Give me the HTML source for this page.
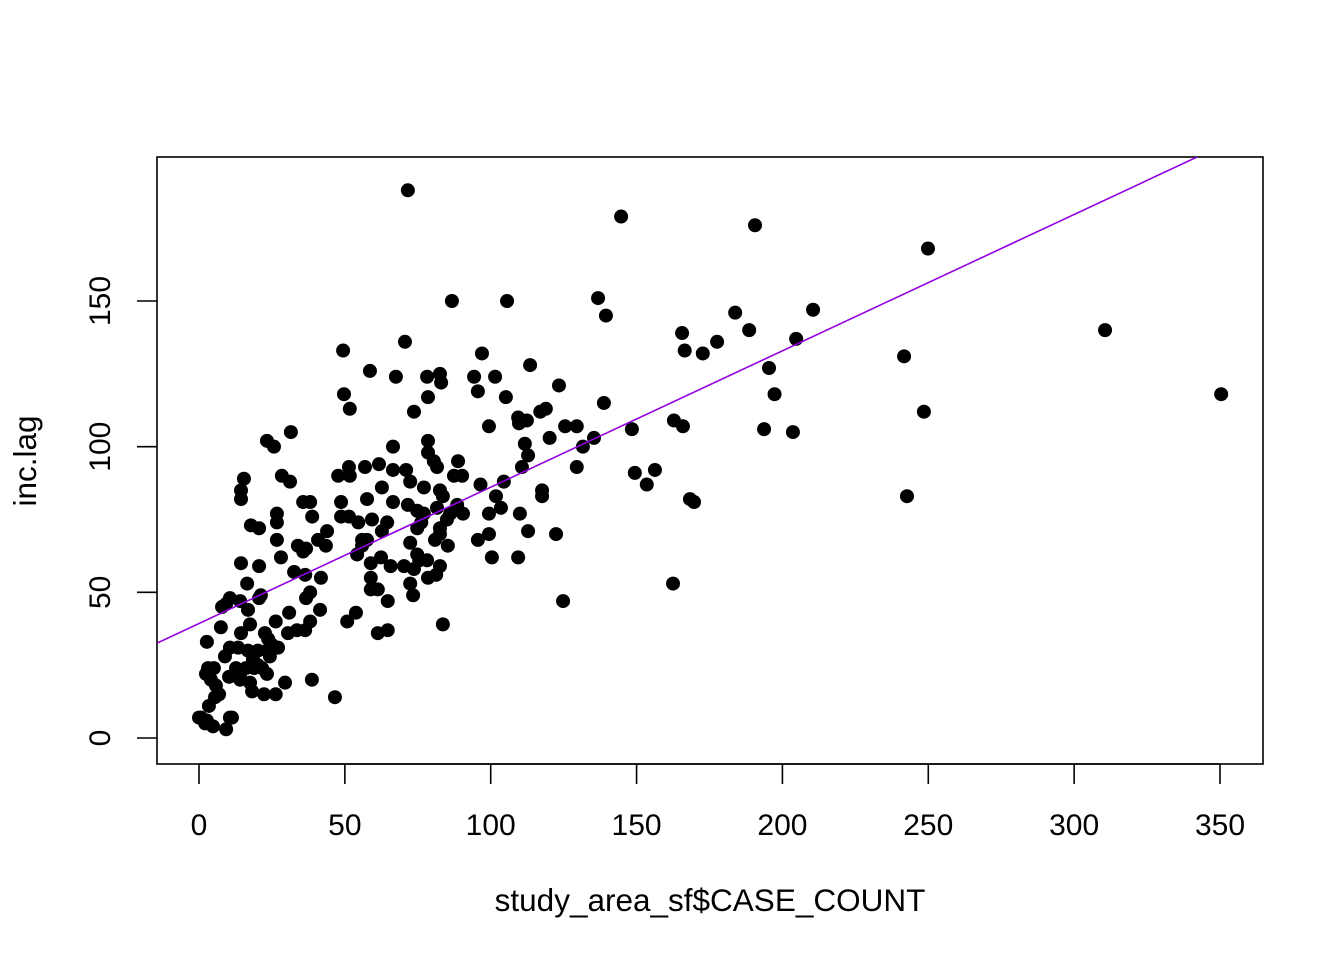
<!DOCTYPE html>
<html><head><meta charset="utf-8">
<style>
html,body{margin:0;padding:0;background:#fff;}
svg{display:block;font-family:"Liberation Sans",Arial,sans-serif;}
</style></head>
<body>
<svg id="chart" width="1344" height="960" viewBox="0 0 1344 960">
<g id="axes"></g>
<g id="pts" clip-path="url(#clip)"></g>
<defs><clipPath id="clip"><rect x="157" y="157" width="1106" height="607"/></clipPath></defs>
<g id="fit" clip-path="url(#clip)"></g>
</svg>
<script>
const xTicks=[0,50,100,150,200,250,300,350];
const yTicks=[0,50,100,150];
const fitIntercept=39.3;
const fitSlope=0.468;
const caseCount=[71.6,144.7,190.6,249.9,86.7,105.6,136.8,139.5,310.6,350.4,210.5,183.8,188.6,165.6,177.6,204.7,166.5,172.7,241.7,195.4,197.3,248.5,193.7,203.6,162.8,165.9,148.4,156.3,149.4,153.5,168.3,169.7,242.7,162.5,124.8,138.8,135.4,131.6,129.5,129.5,125.5,122.4,123.4,120.2,118.9,117.0,117.6,117.6,113.5,112.4,109.4,109.7,111.7,112.8,110.7,110.0,112.8,109.4,105.2,101.5,97.0,94.3,95.6,99.4,101.8,103.5,104.5,99.4,99.4,100.4,96.5,95.6,88.8,87.4,90.2,88.5,90.5,86.1,83.0,82.6,78.2,78.5,78.5,78.5,80.5,81.6,82.6,83.6,81.6,85.0,82.6,82.6,80.9,85.3,82.6,81.3,78.5,83.6,73.7,70.6,67.5,66.5,66.5,71.0,72.4,77.1,77.1,74.8,71.6,74.8,76.2,72.4,74.8,75.5,78.2,70.3,73.7,72.4,73.4,62.7,66.5,64.5,62.7,61.7,59.3,57.6,57.6,55.9,54.2,55.9,58.9,62.4,65.7,58.9,58.9,61.3,64.7,61.3,64.7,53.8,50.8,56.9,51.7,51.4,47.7,54.6,51.4,48.7,48.7,51.7,49.7,49.4,58.6,46.6,38.1,35.7,38.8,40.8,43.9,43.5,41.8,36.7,33.9,35.7,32.6,36.4,31.2,28.4,31.5,23.3,25.7,15.4,14.4,14.4,17.8,20.6,14.4,26.7,26.7,26.7,28.1,20.6,16.5,21.2,20.6,10.6,9.3,7.9,14.1,16.8,17.5,14.4,7.5,2.7,30.9,36.7,38.1,41.5,38.1,36.4,33.6,30.5,26.3,22.6,23.7,25.0,27.1,23.3,24.3,20.2,16.8,13.4,10.6,8.9,18.5,20.2,21.6,18.9,16.1,12.7,14.1,23.3,10.3,14.1,17.5,18.2,22.3,26.3,29.5,38.7,3.1,5.1,2.4,4.1,5.8,6.9,5.5,3.4,0,2.1,0.7,4.8,10.6,9.3,11.3,2.7];
const incLag=[188,179,176,168,150,150,151,145,140,118,147,146,140,139,136,137,133,132,131,127,118,112,106,105,109,107,106,92,91,87,82,81,83,53,47,115,103,100,93,107,107,70,121,103,113,112,85,83,128,109,110,108,101,97,93,77,71,62,117,124,132,124,119,107,83,79,88,77,70,62,87,68,95,90,90,80,77,77,122,125,124,117,102,98,95,93,85,83,79,75,72,70,68,66,59,56,55,39,112,136,124,100,92,92,88,86,77,78,80,72,74,67,63,61,61,59,58,53,49,86,81,74,71,94,75,82,68,66,63,68,60,62,59,55,51,51,47,36,37,43,40,93,90,93,90,74,76,76,81,113,118,133,126,14,81,81,76,68,71,66,55,65,66,64,57,56,88,90,105,102,100,89,85,82,73,72,60,74,77,68,62,59,53,49,48,48,46,45,47,44,39,36,38,33,43,48,50,44,40,37,37,36,40,36,34,32,31,30,28,30,30,31,31,28,27,25,24,24,24,24,22,22,21,20,19,16,15,15,19,20,24,24,22,20,18,15,14,11,7,5,7,4,7,3,7,6];
const NS='http://www.w3.org/2000/svg';
const X0=157,X1=1263,Y0=157,Y1=764;
function sx(v){return 199+v*(1220-199)/350;}
function sy(v){return 738-v*(738-301)/150;}
function mk(tag,attrs,parent){const e=document.createElementNS(NS,tag);for(const k in attrs)e.setAttribute(k,attrs[k]);parent.appendChild(e);return e;}
const axes=document.getElementById('axes');
const box=mk('rect',{x:X0,y:Y0,width:X1-X0,height:Y1-Y0,fill:'none',stroke:'#000','stroke-width':1.6},axes);


const xl=mk('line',{x1:sx(xTicks[0]),x2:sx(xTicks[xTicks.length-1]),y1:Y1,y2:Y1,stroke:'#000','stroke-width':1.6},axes);


xTicks.forEach(t=>{
  const l=mk('line',{x1:sx(t),x2:sx(t),y1:Y1,y2:Y1+20,stroke:'#000','stroke-width':1.6},axes);
  
  
  const tx=mk('text',{x:sx(t),y:835,'text-anchor':'middle','font-size':30},axes);
  tx.textContent=t;
  
  
});
yTicks.forEach(t=>{
  const l=mk('line',{x1:X0-20,x2:X0,y1:sy(t),y2:sy(t),stroke:'#000','stroke-width':1.6},axes);
  
  
  const tx=mk('text',{x:110,y:sy(t),'text-anchor':'middle','font-size':30,transform:'rotate(-90 110 '+sy(t)+')'},axes);
  tx.textContent=t;
  
  
});
const xt=mk('text',{x:710,y:911,'text-anchor':'middle','font-size':31.5},axes);
xt.textContent='study_area_sf$CASE_COUNT';


const yt=mk('text',{x:36,y:461,'text-anchor':'middle','font-size':31.5,transform:'rotate(-90 36 461)'},axes);
yt.textContent='inc.lag';


const pts=document.getElementById('pts');
caseCount.forEach((v,i)=>{
  const c=mk('circle',{cx:sx(v),cy:sy(incLag[i]),r:7,fill:'#000'},pts);
  
  
});
const xa=-20,xb=400;
const fl=mk('line',{x1:sx(xa),y1:sy(fitIntercept+fitSlope*xa),x2:sx(xb),y2:sy(fitIntercept+fitSlope*xb),stroke:'#9400E0','stroke-width':1.6},document.getElementById('fit'));


</script>
</body></html>
